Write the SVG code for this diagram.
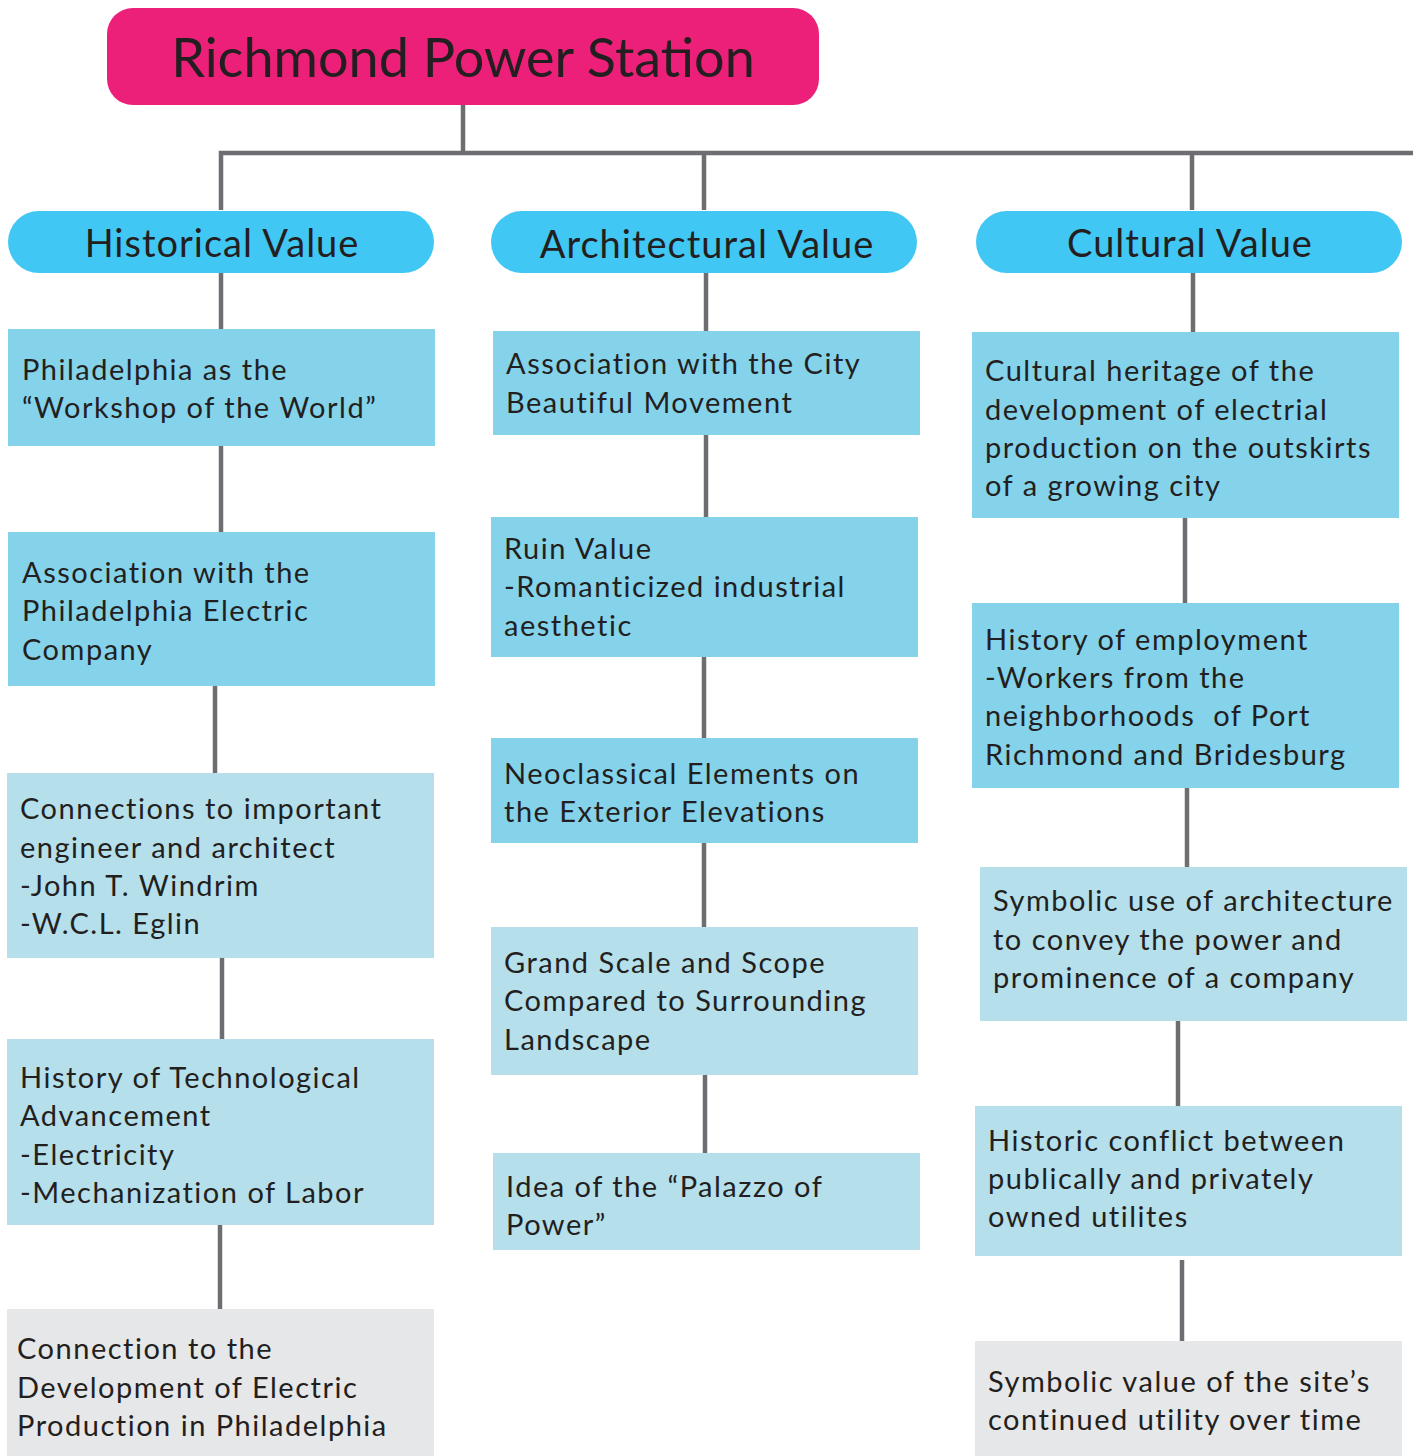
<svg xmlns="http://www.w3.org/2000/svg" width="1413" height="1456" viewBox="0 0 1413 1456">
  <style>
    text { font-family: Lato, "Open Sans", "Liberation Sans", sans-serif; fill: #231f20; }
    .title { font-size: 54px; text-anchor: middle; }
    .cat { font-size: 38px; text-anchor: middle; letter-spacing: 1px; }
    .item { font-size: 29px; letter-spacing: 1.5px; }
    .root { fill: #ed2079; }
    .pill { fill: #41c7f4; }
    .dark { fill: #84d3eb; }
    .light { fill: #b5dfeb; }
    .grey { fill: #e6e7e8; }
    .wire { stroke: #6d6e71; stroke-width: 4.5; fill: none; }
  </style>

  <!-- connectors -->
  <g id="connectors" class="wire">
    <path d="M463 105 V153"/>
    <path d="M221 210 V153 H1413"/>
    <path d="M704 153 V210"/>
    <path d="M1192 153 V210"/>
    <!-- historical column -->
    <path d="M221 273 V329"/>
    <path d="M221 446 V532"/>
    <path d="M215 686 V773"/>
    <path d="M222 958 V1039"/>
    <path d="M220 1225 V1309"/>
    <!-- architectural column -->
    <path d="M706 273 V331"/>
    <path d="M706 435 V517"/>
    <path d="M704 657 V738"/>
    <path d="M704 843 V927"/>
    <path d="M705 1075 V1153"/>
    <!-- cultural column -->
    <path d="M1193 273 V332"/>
    <path d="M1185 518 V603"/>
    <path d="M1187 788 V867"/>
    <path d="M1178 1021 V1106"/>
    <path d="M1182 1260 V1343"/>
  </g>

  <!-- root -->
  <g id="root">
    <rect class="root" x="107" y="8" width="712" height="97" rx="26"/>
    <text class="title" x="463" y="77">Richmond Power Station</text>
  </g>

  <!-- categories -->
  <g id="cat-historical">
    <rect class="pill" x="8" y="211" width="426" height="62" rx="31"/>
    <text class="cat" x="222" y="257">Historical Value</text>
  </g>
  <g id="cat-architectural">
    <rect class="pill" x="491" y="211" width="426" height="62" rx="31"/>
    <text class="cat" x="707" y="258">Architectural Value</text>
  </g>
  <g id="cat-cultural">
    <rect class="pill" x="976" y="211" width="426" height="62" rx="31"/>
    <text class="cat" x="1190" y="257">Cultural Value</text>
  </g>

  <!-- historical items -->
  <g id="h1">
    <rect class="dark" x="8" y="329" width="427" height="117"/>
    <text class="item" x="22" y="380">Philadelphia as the</text>
    <text class="item" x="22" y="418">“Workshop of the World”</text>
  </g>
  <g id="h2">
    <rect class="dark" x="8" y="532" width="427" height="154"/>
    <text class="item" x="22" y="583">Association with the</text>
    <text class="item" x="22" y="621">Philadelphia Electric</text>
    <text class="item" x="22" y="660">Company</text>
  </g>
  <g id="h3">
    <rect class="light" x="7" y="773" width="427" height="185"/>
    <text class="item" x="20" y="819">Connections to important</text>
    <text class="item" x="20" y="858">engineer and architect</text>
    <text class="item" x="20" y="896">-John T. Windrim</text>
    <text class="item" x="20" y="934">-W.C.L. Eglin</text>
  </g>
  <g id="h4">
    <rect class="light" x="7" y="1039" width="427" height="186"/>
    <text class="item" x="20" y="1088">History of Technological</text>
    <text class="item" x="20" y="1126">Advancement</text>
    <text class="item" x="20" y="1165">-Electricity</text>
    <text class="item" x="20" y="1203">-Mechanization of Labor</text>
  </g>
  <g id="h5">
    <rect class="grey" x="7" y="1309" width="427" height="147"/>
    <text class="item" x="17" y="1359">Connection to the</text>
    <text class="item" x="17" y="1398">Development of Electric</text>
    <text class="item" x="17" y="1436">Production in Philadelphia</text>
  </g>

  <!-- architectural items -->
  <g id="a1">
    <rect class="dark" x="493" y="331" width="427" height="104"/>
    <text class="item" x="506" y="374">Association with the City</text>
    <text class="item" x="506" y="413">Beautiful Movement</text>
  </g>
  <g id="a2">
    <rect class="dark" x="491" y="517" width="427" height="140"/>
    <text class="item" x="504" y="559">Ruin Value</text>
    <text class="item" x="504" y="597">-Romanticized industrial</text>
    <text class="item" x="504" y="636">aesthetic</text>
  </g>
  <g id="a3">
    <rect class="dark" x="491" y="738" width="427" height="105"/>
    <text class="item" x="504" y="784">Neoclassical Elements on</text>
    <text class="item" x="504" y="822">the Exterior Elevations</text>
  </g>
  <g id="a4">
    <rect class="light" x="491" y="927" width="427" height="148"/>
    <text class="item" x="504" y="973">Grand Scale and Scope</text>
    <text class="item" x="504" y="1011">Compared to Surrounding</text>
    <text class="item" x="504" y="1050">Landscape</text>
  </g>
  <g id="a5">
    <rect class="light" x="493" y="1153" width="427" height="97"/>
    <text class="item" x="506" y="1197">Idea of the “Palazzo of</text>
    <text class="item" x="506" y="1235">Power”</text>
  </g>

  <!-- cultural items -->
  <g id="c1">
    <rect class="dark" x="972" y="332" width="427" height="186"/>
    <text class="item" x="985" y="381">Cultural heritage of the</text>
    <text class="item" x="985" y="420">development of electrial</text>
    <text class="item" x="985" y="458">production on the outskirts</text>
    <text class="item" x="985" y="496">of a growing city</text>
  </g>
  <g id="c2">
    <rect class="dark" x="972" y="603" width="427" height="185"/>
    <text class="item" x="985" y="650">History of employment</text>
    <text class="item" x="985" y="688">-Workers from the</text>
    <text class="item" x="985" y="726" xml:space="preserve">neighborhoods  of Port</text>
    <text class="item" x="985" y="765">Richmond and Bridesburg</text>
  </g>
  <g id="c3">
    <rect class="light" x="980" y="867" width="427" height="154"/>
    <text class="item" x="993" y="911">Symbolic use of architecture</text>
    <text class="item" x="993" y="950">to convey the power and</text>
    <text class="item" x="993" y="988">prominence of a company</text>
  </g>
  <g id="c4">
    <rect class="light" x="975" y="1106" width="427" height="150"/>
    <text class="item" x="988" y="1151">Historic conflict between</text>
    <text class="item" x="988" y="1189">publically and privately</text>
    <text class="item" x="988" y="1227">owned utilites</text>
  </g>
  <g id="c5">
    <rect class="grey" x="975" y="1341" width="427" height="115"/>
    <text class="item" x="988" y="1392">Symbolic value of the site’s</text>
    <text class="item" x="988" y="1430">continued utility over time</text>
  </g>
</svg>
